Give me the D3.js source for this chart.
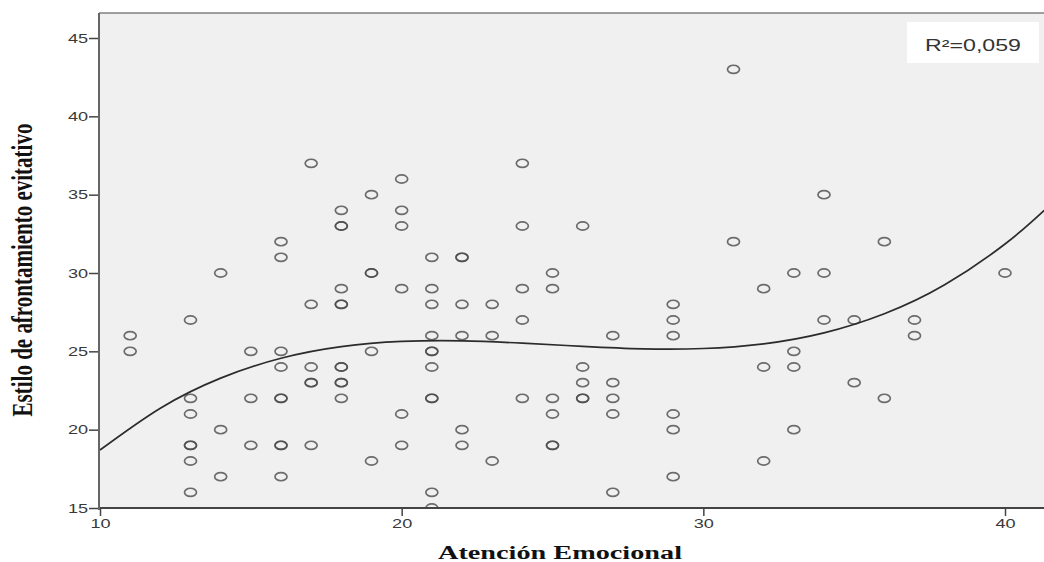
<!DOCTYPE html>
<html>
<head>
<meta charset="utf-8">
<script src="https://cdn.jsdelivr.net/npm/d3@7"></script>
<style>
  body { margin: 0; background: #fff; }
  svg { display: block; }
</style>
</head>
<body>
<div id="chart"></div>
<script>
// Atención Emocional (x) values and the Estilo evitativo scores seen at each one
const atencion = [11, 13, 14, 15, 16, 17, 18, 19, 20, 21, 22, 23, 24, 25, 26, 27, 29, 31, 32, 33, 34, 35, 36, 37, 40];
const evitativo = [
    [26, 25],
    [27, 22, 21, 19, 19, 18, 16],
    [30, 20, 17],
    [25, 22, 19],
    [32, 31, 25, 24, 22, 22, 19, 19, 17],
    [37, 28, 24, 23, 23, 19],
    [34, 33, 33, 29, 28, 28, 24, 24, 23, 23, 22],
    [35, 30, 30, 25, 18],
    [36, 34, 33, 29, 21, 19],
    [31, 29, 28, 26, 25, 25, 24, 22, 22, 16, 15],
    [31, 31, 28, 26, 20, 19],
    [28, 26, 18],
    [37, 33, 29, 27, 22],
    [30, 29, 22, 21, 19, 19],
    [33, 24, 23, 22, 22],
    [26, 23, 22, 21, 16],
    [28, 27, 26, 21, 20, 17],
    [43, 32],
    [29, 24, 18],
    [30, 25, 24, 20],
    [35, 30, 27],
    [27, 23],
    [32, 22],
    [27, 26],
    [30]
];

// cubic fit line
const fitX = [10, 12, 14, 16, 18, 20, 22, 24, 26, 28, 30, 32, 34, 36, 38, 40, 41.3];
const fitY = [18.7, 21.37, 23.29, 24.56, 25.3, 25.63, 25.67, 25.52, 25.32, 25.16, 25.18, 25.48, 26.18, 27.4, 29.25, 31.85, 34.0];

const xTicks = [10, 20, 30, 40];
const yTicks = [15, 20, 25, 30, 35, 40, 45];
const r2Label = 'R²=0,059';

const W = 1044, H = 562;
const plot = { left: 99, top: 13, right: 1050, bottom: 508 };
const stretch = 1.45; // source picture is widened horizontally

const points = [];
atencion.forEach((x, i) => evitativo[i].forEach(y => points.push({ x, y })));

const svg = d3.select('#chart').append('svg')
    .attr('width', W)
    .attr('height', H);

const x = d3.scaleLinear().domain([10, 40]).range([100, 1005]);
const y = d3.scaleLinear().domain([15, 45]).range([508, 38]);

// plot background
svg.append('rect')
    .attr('x', plot.left)
    .attr('y', plot.top)
    .attr('width', plot.right - plot.left)
    .attr('height', plot.bottom - plot.top)
    .attr('fill', '#f0f0f0');

svg.append('line')
    .attr('x1', plot.left).attr('x2', plot.right)
    .attr('y1', plot.top).attr('y2', plot.top)
    .attr('stroke', '#808080')
    .attr('stroke-width', 1.5);

svg.append('clipPath').attr('id', 'clip')
    .append('rect')
    .attr('x', plot.left).attr('y', plot.top)
    .attr('width', plot.right - plot.left)
    .attr('height', plot.bottom - plot.top);

const inner = svg.append('g').attr('clip-path', 'url(#clip)');

// points
inner.append('g')
    .selectAll('ellipse')
    .data(points)
    .join('ellipse')
    .attr('cx', d => x(d.x))
    .attr('cy', d => y(d.y))
    .attr('rx', 6)
    .attr('ry', 4.1)
    .attr('fill', 'none')
    .attr('stroke', '#4a4a4a')
    .attr('stroke-opacity', 0.8)
    .attr('stroke-width', 1.7);

// fit line
const fitLine = d3.line()
    .x(d => x(d[0]))
    .y(d => y(d[1]))
    .curve(d3.curveNatural);

inner.append('path')
    .datum(fitX.map((v, i) => [v, fitY[i]]))
    .attr('d', fitLine)
    .attr('fill', 'none')
    .attr('stroke', '#2b2b2b')
    .attr('stroke-width', 1.7);

// axes
const xAxis = d3.axisBottom(x).tickValues(xTicks).tickSize(8).tickSizeOuter(0).tickPadding(3);
const yAxis = d3.axisLeft(y).tickValues(yTicks).tickSize(10).tickSizeOuter(0).tickPadding(1);

const xAxisG = svg.append('g')
    .attr('transform', `translate(0,${plot.bottom})`)
    .call(xAxis);
xAxisG.select('.domain').remove();
xAxisG.append('line')
    .attr('x1', plot.left).attr('x2', plot.right)
    .attr('stroke', '#444').attr('stroke-width', 2);

const yAxisG = svg.append('g')
    .attr('transform', `translate(${plot.left},0)`)
    .call(yAxis);
yAxisG.select('.domain').remove();
yAxisG.append('line')
    .attr('y1', plot.top).attr('y2', plot.bottom + 2)
    .attr('stroke', '#666').attr('stroke-width', 2);

svg.selectAll('.tick line').attr('stroke', '#444').attr('stroke-width', 1.5);
svg.selectAll('.tick text')
    .attr('fill', '#3a3a3a')
    .style('font-family', 'Liberation Sans, Arial, sans-serif')
    .style('font-size', '12.5px');

// widen tick labels like the source
xAxisG.selectAll('.tick text')
    .attr('transform', `scale(${stretch},1)`);
yAxisG.selectAll('.tick text')
    .attr('x', -11 / stretch)
    .attr('transform', `scale(${stretch},1)`);

// axis titles
svg.append('text')
    .attr('transform', `translate(560,559) scale(${stretch},1)`)
    .attr('text-anchor', 'middle')
    .style('font-family', 'Liberation Serif, Times New Roman, serif')
    .style('font-weight', 'bold')
    .style('font-size', '19.5px')
    .attr('fill', '#111')
    .text('Atención Emocional');

svg.append('text')
    .attr('transform', `translate(32,270) scale(${stretch},1) rotate(-90)`)
    .attr('text-anchor', 'middle')
    .style('font-family', 'Liberation Serif, Times New Roman, serif')
    .style('font-weight', 'bold')
    .style('font-size', '21px')
    .attr('fill', '#111')
    .text('Estilo de afrontamiento evitativo');

// R² box
svg.append('rect')
    .attr('x', 907).attr('y', 22)
    .attr('width', 132).attr('height', 41)
    .attr('fill', '#fff');

svg.append('text')
    .attr('transform', `translate(973,51) scale(${stretch},1)`)
    .attr('text-anchor', 'middle')
    .style('font-family', 'Liberation Sans, Arial, sans-serif')
    .style('font-size', '16px')
    .attr('fill', '#333')
    .text(r2Label);
</script>
</body>
</html>
